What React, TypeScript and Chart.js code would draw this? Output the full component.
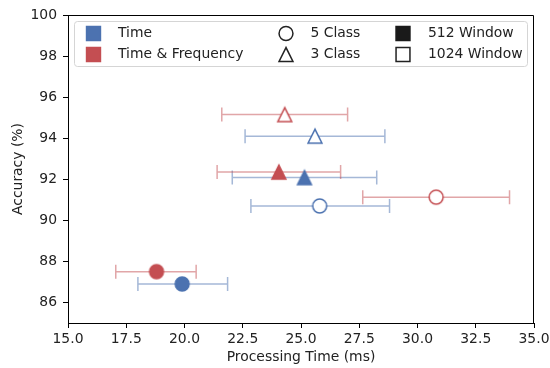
import React, { useEffect, useRef } from 'react';
import { Chart, registerables } from 'chart.js';
Chart.register(...registerables);

// ---- data ----
const seriesNames = ['Time', 'Time & Frequency'];
const seriesColors = ['#4C72B0', '#C44E52'];
const pointConfigs = ['512 Window, 5 Class', '1024 Window, 5 Class', '512 Window, 3 Class', '1024 Window, 3 Class'];
const pointShapes = ['circle', 'circle', 'triangle', 'triangle'];
const pointFilled = [true, false, true, false];

const timeMs = [19.9, 25.8, 25.15, 25.6];
const timeAcc = [86.9, 90.7, 92.08, 94.1];
const timeErrLow = [18.0, 22.85, 22.05, 22.6];
const timeErrHigh = [21.85, 28.8, 28.25, 28.6];

const tfMs = [18.8, 30.8, 24.05, 24.3];
const tfAcc = [87.5, 91.13, 92.35, 95.15];
const tfErrLow = [17.05, 27.65, 21.4, 21.6];
const tfErrHigh = [20.5, 33.95, 26.7, 27.0];

const xTicks = [15, 17.5, 20, 22.5, 25, 27.5, 30, 32.5, 35];
const yTicks = [86, 88, 90, 92, 94, 96, 98, 100];

const legendItems = [
  { label: 'Time', kind: 'square', color: '#4C72B0', filled: true },
  { label: 'Time & Frequency', kind: 'square', color: '#C44E52', filled: true },
  { label: '5 Class', kind: 'circle', color: '#222222', filled: false },
  { label: '3 Class', kind: 'triangle', color: '#222222', filled: false },
  { label: '512 Window', kind: 'square', color: '#1a1a1a', filled: true },
  { label: '1024 Window', kind: 'square', color: '#222222', filled: false },
];

const FONT = 'DejaVu Sans';
const FS = 13.9;
const MS = 6.95; // marker half-size

function shapePath(ctx: CanvasRenderingContext2D, kind: string, cx: number, cy: number, r: number) {
  ctx.beginPath();
  if (kind === 'circle') {
    ctx.arc(cx, cy, r, 0, Math.PI * 2);
  } else if (kind === 'triangle') {
    ctx.moveTo(cx, cy - r);
    ctx.lineTo(cx - r, cy + r);
    ctx.lineTo(cx + r, cy + r);
    ctx.closePath();
  } else {
    ctx.rect(cx - r, cy - r, r * 2, r * 2);
  }
}

function drawMarker(ctx: CanvasRenderingContext2D, kind: string, cx: number, cy: number, r: number, color: string, filled: boolean) {
  ctx.save();
  shapePath(ctx, kind, cx, cy, r);
  ctx.fillStyle = filled ? color : '#ffffff';
  ctx.fill();
  ctx.lineWidth = 1.5;
  ctx.lineJoin = 'miter';
  ctx.strokeStyle = color;
  ctx.stroke();
  ctx.restore();
}

function makeMarker(kind: string, color: string, filled: boolean) {
  const c = document.createElement('canvas');
  c.width = 20;
  c.height = 20;
  const ctx = c.getContext('2d')!;
  drawMarker(ctx, kind, 10, 10, MS, color, filled);
  return c;
}

function hexA(hex: string, a: number) {
  const n = parseInt(hex.slice(1), 16);
  return `rgba(${(n >> 16) & 255},${(n >> 8) & 255},${n & 255},${a})`;
}

const allMs = [timeMs, tfMs];
const allAcc = [timeAcc, tfAcc];
const allLow = [timeErrLow, tfErrLow];
const allHigh = [timeErrHigh, tfErrHigh];

const errorBarPlugin = {
  id: 'errorBars',
  beforeDatasetsDraw(chart: any) {
    const ctx = chart.ctx;
    const xs = chart.scales.x;
    const ys = chart.scales.y;
    ctx.save();
    ctx.lineWidth = 1.5;
    for (let s = 0; s < 2; s++) {
      ctx.strokeStyle = hexA(seriesColors[s], 0.5);
      for (let i = 0; i < allMs[s].length; i++) {
        const y = ys.getPixelForValue(allAcc[s][i]);
        const x0 = xs.getPixelForValue(allLow[s][i]);
        const x1 = xs.getPixelForValue(allHigh[s][i]);
        ctx.beginPath();
        ctx.moveTo(x0, y);
        ctx.lineTo(x1, y);
        ctx.moveTo(x0, y - 7);
        ctx.lineTo(x0, y + 7);
        ctx.moveTo(x1, y - 7);
        ctx.lineTo(x1, y + 7);
        ctx.stroke();
      }
    }
    ctx.restore();
  },
  afterDraw(chart: any) {
    const ctx = chart.ctx;
    const a = chart.chartArea;
    ctx.save();
    ctx.strokeStyle = '#000';
    ctx.lineWidth = 1;
    ctx.beginPath();
    ctx.moveTo(Math.round(a.left) + 0.5, Math.round(a.top) + 0.5);
    ctx.lineTo(Math.round(a.right) - 0.5, Math.round(a.top) + 0.5);
    ctx.lineTo(Math.round(a.right) - 0.5, Math.round(a.bottom));
    ctx.stroke();

    // legend
    const bx = 74.5, by = 21.5, bw = 453, bh = 45, rr = 3;
    ctx.beginPath();
    ctx.moveTo(bx + rr, by);
    ctx.arcTo(bx + bw, by, bx + bw, by + bh, rr);
    ctx.arcTo(bx + bw, by + bh, bx, by + bh, rr);
    ctx.arcTo(bx, by + bh, bx, by, rr);
    ctx.arcTo(bx, by, bx + bw, by, rr);
    ctx.closePath();
    ctx.fillStyle = 'rgba(255,255,255,0.8)';
    ctx.fill();
    ctx.strokeStyle = '#d5d5d5';
    ctx.lineWidth = 1;
    ctx.stroke();

    const colMarkerX = [93.5, 286, 403];
    const colTextX = [118, 310.5, 428];
    const rowY = [33.5, 54.5];
    ctx.font = `${FS}px "${FONT}"`;
    ctx.textBaseline = 'middle';
    ctx.textAlign = 'left';
    legendItems.forEach((it, idx) => {
      const col = Math.floor(idx / 2);
      const row = idx % 2;
      const mx = colMarkerX[col];
      const my = rowY[row];
      drawMarker(ctx, it.kind, mx, my, MS, it.color, it.filled);
      ctx.fillStyle = '#222';
      ctx.fillText(it.label, colTextX[col], my);
    });
    ctx.restore();
  },
};

export default function App() {
  const ref = useRef<HTMLCanvasElement | null>(null);
  useEffect(() => {
    document.body.style.margin = '0';
    const canvas = ref.current!;
    const datasets = seriesNames.map((name, s) => ({
      label: name,
      data: allMs[s].map((x, i) => ({ x, y: allAcc[s][i] })),
      pointStyle: pointShapes.map((k, i) => makeMarker(k, seriesColors[s], pointFilled[i])),
      pointRadius: 7,
      borderColor: seriesColors[s],
      backgroundColor: seriesColors[s],
      showLine: false,
    }));
    const tickFont = { family: FONT, size: FS };
    const chart = new Chart(canvas, {
      type: 'scatter',
      data: { datasets },
      plugins: [errorBarPlugin],
      options: {
        animation: false,
        responsive: false,
        devicePixelRatio: 1,
        layout: { padding: { left: 0, top: 15, right: 16, bottom: 0 } },
        plugins: { legend: { display: false }, tooltip: { enabled: false } },
        scales: {
          x: {
            type: 'linear',
            min: 15,
            max: 35,
            afterBuildTicks: (sc: any) => { sc.ticks = xTicks.map((v) => ({ value: v })); },
            afterFit: (sc: any) => { sc.height = 45; sc.paddingRight = 0; sc.paddingLeft = 0; },
            ticks: { font: tickFont, color: '#222', padding: 3, maxRotation: 0, callback: (v: any) => Number(v).toFixed(1) },
            grid: { drawOnChartArea: false, drawTicks: true, tickLength: 5, color: '#000' },
            border: { display: true, color: '#000', width: 1 },
            title: { display: true, text: 'Processing Time (ms)', font: tickFont, color: '#222', padding: { top: 0, bottom: 2 } },
          },
          y: {
            type: 'linear',
            min: 85,
            max: 100,
            afterBuildTicks: (sc: any) => { sc.ticks = yTicks.map((v) => ({ value: v })); },
            afterFit: (sc: any) => { sc.width = 68; sc.paddingTop = 0; sc.paddingBottom = 0; },
            ticks: { font: tickFont, color: '#222', padding: 6, callback: (v: any) => String(v) },
            grid: { drawOnChartArea: false, drawTicks: true, tickLength: 5, color: '#000' },
            border: { display: true, color: '#000', width: 1 },
            title: { display: true, text: 'Accuracy (%)', font: tickFont, color: '#222', padding: { top: 10, bottom: 0 } },
          },
        },
      } as any,
    });
    return () => chart.destroy();
  }, []);
  return <canvas ref={ref} width={550} height={368} style={{ display: 'block' }} />;
}
